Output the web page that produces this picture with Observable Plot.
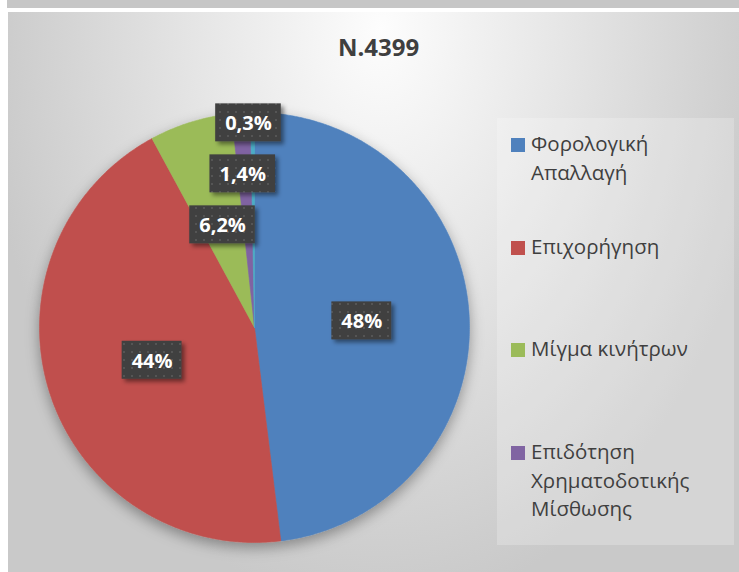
<!DOCTYPE html>
<html>
<head>
<meta charset="utf-8">
<script src="https://cdn.jsdelivr.net/npm/d3@7"></script>
<script src="https://cdn.jsdelivr.net/npm/@observablehq/plot@0.6"></script>
<style>
  html, body { margin: 0; padding: 0; background: #fff; }
  #page { position: relative; width: 739px; height: 572px; overflow: hidden; background: #fff; font-family: "Open Sans", "DejaVu Sans", sans-serif; }
  #strip { position: absolute; left: 7px; top: 0; width: 732px; height: 8px; background: #c6c6c6; }
  #area { position: absolute; left: 8px; top: 12px; width: 731px; height: 560px;
          background: radial-gradient(ellipse 400px 580px at 51% 3%, #fdfdfd 0%, #e6e6e6 45%, #c9c9c9 100%); }
  #title { position: absolute; left: 0; width: 100%; top: 18px; text-align: center; font-weight: 700; font-size: 24px; color: #3f3f3f; padding-left: 10px; box-sizing: border-box; }
  #chart { position: absolute; left: 0; top: 0; }
  #legend { position: absolute; left: 489px; top: 106px; width: 237px; height: 427px; background: rgba(255,255,255,0.22); }
  .item { position: absolute; left: 14px; display: flex; align-items: flex-start; font-size: 20.5px; line-height: 28.5px; color: #3f3f3f; }
  .sw { width: 14px; height: 14px; margin-top: 9px; margin-right: 6px; flex: none; }
</style>
</head>
<body>
<div id="page">
  <div id="strip"></div>
  <div id="area">
    <div id="title"></div>
    <div id="chart"></div>
    <div id="legend"></div>
  </div>
</div>
<script>
const title = "N.4399";
const categories = ["Φορολογική Απαλλαγή", "Επιχορήγηση", "Μίγμα κινήτρων", "Επιδότηση Χρηματοδοτικής Μίσθωσης", "Λοιπά"];
const legendLines = [["Φορολογική", "Απαλλαγή"], ["Επιχορήγηση"], ["Μίγμα κινήτρων"], ["Επιδότηση", "Χρηματοδοτικής", "Μίσθωσης"]];
const values = [48, 44, 6.2, 1.4, 0.3];
const labels = ["48%", "44%", "6,2%", "1,4%", "0,3%"];
const colors = ["#4F81BD", "#C0504D", "#9BBB59", "#8064A2", "#4BACC6"];

document.getElementById("title").textContent = title;

// pie geometry from the values
const arcs = d3.pie().sort(null).value(d => d)(values);
const slicePts = [];
arcs.forEach((a, i) => {
  const n = Math.max(2, Math.ceil((a.endAngle - a.startAngle) / (Math.PI / 360)));
  slicePts.push({cat: categories[i], x: 0, y: 0});
  for (let k = 0; k <= n; k++) {
    const t = a.startAngle + (a.endAngle - a.startAngle) * k / n;
    slicePts.push({cat: categories[i], x: Math.sin(t), y: Math.cos(t)});
  }
  slicePts.push({cat: categories[i], x: 0, y: 0});
});

// label boxes (pixel sizes converted to data units)
const R = 215;
const ctx = document.createElement("canvas").getContext("2d");
ctx.font = "bold 20px 'Open Sans'";
const boxH = 38 / R, gap = 13 / R;
const placed = [];
const lab = arcs.map((a, i) => {
  const mid = (a.startAngle + a.endAngle) / 2;
  const w = (ctx.measureText(labels[i]).width + 19) / R;
  let x = 0.5 * Math.sin(mid), y = 0.5 * Math.cos(mid);
  let moved = true, shifted = false;
  while (moved) {
    moved = false;
    for (const p of placed) {
      if (Math.abs(p.x - x) < (p.w + w) / 2 && Math.abs(p.y - y) < boxH + gap - 1e-9) {
        y = p.y + boxH + gap; moved = true;
        if (!shifted) { x -= 5 / R; shifted = true; }
      }
    }
  }
  const d = {label: labels[i], x, y, w};
  placed.push(d);
  return d;
});

const cx = 246, cy = 315;
const plot = Plot.plot({
  width: 731, height: 560,
  margin: 0,
  style: {background: "transparent", overflow: "visible"},
  x: {domain: [-1, 1], range: [cx - R, cx + R], axis: null},
  y: {domain: [-1, 1], range: [cy + R, cy - R], axis: null},
  color: {domain: categories, range: colors},
  marks: [
    Plot.line(slicePts, {x: "x", y: "y", z: "cat", fill: "cat", stroke: "cat", strokeWidth: 0.6, curve: "linear"}),
    Plot.rect(lab, {x1: d => d.x - d.w / 2, x2: d => d.x + d.w / 2, y1: d => d.y - boxH / 2, y2: d => d.y + boxH / 2, fill: "url(#dots)"}),
    Plot.text(lab, {x: "x", y: "y", text: "label", fill: "white", fontWeight: "bold", fontSize: 20, fontFamily: "Open Sans", dy: 1})
  ]
});

// defs: dotted pattern and shadows
const ns = "http://www.w3.org/2000/svg";
const defs = document.createElementNS(ns, "defs");
defs.innerHTML = `
  <pattern id="dots" patternUnits="userSpaceOnUse" width="8" height="8">
    <rect width="8" height="8" fill="#3f3f3f"/>
    <rect x="3" y="3" width="2" height="2" fill="#545454"/>
  </pattern>
  <filter id="pieShadow" x="-20%" y="-20%" width="140%" height="140%">
    <feDropShadow dx="0" dy="5" stdDeviation="7" flood-color="#000" flood-opacity="0.35"/>
  </filter>
  <filter id="boxShadow" x="-30%" y="-30%" width="160%" height="160%">
    <feDropShadow dx="3" dy="3" stdDeviation="2" flood-color="#000" flood-opacity="0.45"/>
  </filter>`;
plot.insertBefore(defs, plot.firstChild);
const gl = plot.querySelector('g[aria-label="line"]');
if (gl) gl.setAttribute("filter", "url(#pieShadow)");
const gr = plot.querySelector('g[aria-label="rect"]');
if (gr) gr.setAttribute("filter", "url(#boxShadow)");
document.getElementById("chart").appendChild(plot);

// legend
const leg = document.getElementById("legend");
legendLines.forEach((lines, i) => {
  const it = document.createElement("div");
  it.className = "item";
  it.style.top = (11 + i * 102.7) + "px";
  const sw = document.createElement("div");
  sw.className = "sw";
  sw.style.background = colors[i];
  const tx = document.createElement("div");
  tx.innerHTML = lines.join("<br>");
  it.appendChild(sw); it.appendChild(tx);
  leg.appendChild(it);
});
</script>
</body>
</html>
